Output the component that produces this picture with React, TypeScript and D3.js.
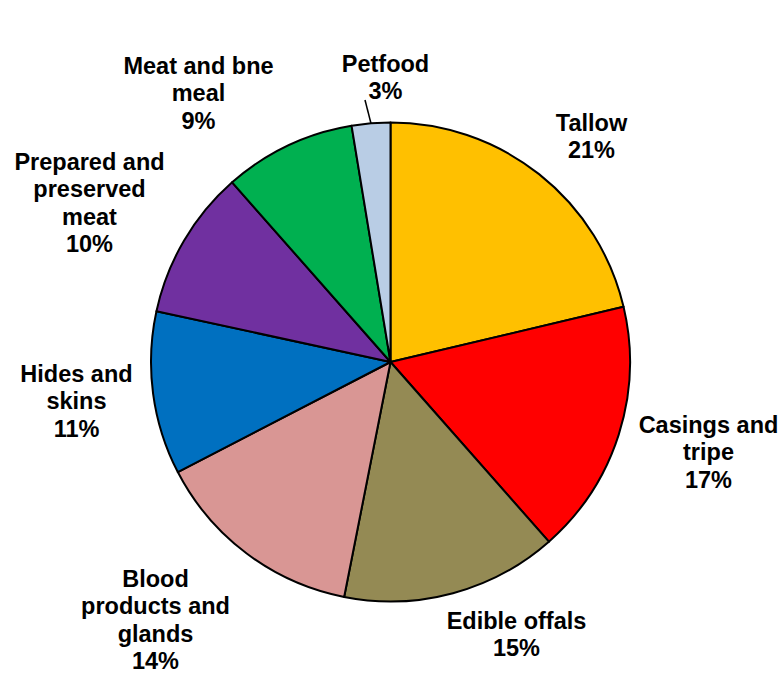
import React from 'react';
import * as d3 from 'd3';

// slice values (percent), clockwise from 12 o'clock
const categories = [
  'Tallow',
  'Casings and tripe',
  'Edible offals',
  'Blood products and glands',
  'Hides and skins',
  'Prepared and preserved meat',
  'Meat and bne meal',
  'Petfood',
];
const values = [21.3, 17.2, 14.6, 14.3, 11.0, 10.1, 8.9, 2.6];
const colors = ['#FFC000', '#FF0000', '#948A54', '#D99694', '#0070C0', '#7030A0', '#00B050', '#B9CDE5'];

// how each label wraps in the picture
const labelLines = [
  ['Tallow'],
  ['Casings and', 'tripe'],
  ['Edible offals'],
  ['Blood', 'products and', 'glands'],
  ['Hides and', 'skins'],
  ['Prepared and', 'preserved', 'meat'],
  ['Meat and bne', 'meal'],
  ['Petfood'],
];

// label anchors (centre x, first baseline) relative to pie centre
const labelPos: [number, number][] = [
  [201, -231],
  [318, 71],
  [126, 267],
  [-235, 225],
  [-314, 20],
  [-301, -192],
  [-192, -288],
  [-5, -290],
];

const W = 784;
const H = 673;
const cx = 390.5;
const cy = 362;
const radius = 239.5;
const lineH = 27.3;

export default function App() {
  const data = values.map((v, i) => ({ name: categories[i], value: v, i }));
  const pie = d3.pie<any>().value((d) => d.value).sort(null).startAngle(0).endAngle(2 * Math.PI);
  const arcs = pie(data);
  const arc = d3.arc<any>().innerRadius(0).outerRadius(radius);
  const total = d3.sum(values);

  // leader line for the small Petfood slice
  const pet = arcs[7];
  const petMid = (pet.startAngle + pet.endAngle) / 2;
  const leadEnd: [number, number] = [Math.sin(petMid) * radius, -Math.cos(petMid) * radius];

  return (
    <svg width={W} height={H} style={{ position: 'absolute', left: 0, top: 0, background: '#fff' }}>
      <g transform={`translate(${cx},${cy})`}>
        {arcs.map((a, i) => (
          <path key={categories[i]} d={arc(a) as string} fill={colors[i]} stroke="#000" strokeWidth={2} strokeLinejoin="round" />
        ))}
        <line x1={-25.5} y1={-262} x2={leadEnd[0]} y2={leadEnd[1]} stroke="#000" strokeWidth={1.5} />
        {labelLines.map((lines, i) => {
          const pct = `${Math.round((values[i] / total) * 100)}%`;
          const all = [...lines, pct];
          return (
            <text
              key={`lbl-${i}`}
              x={labelPos[i][0]}
              y={labelPos[i][1]}
              textAnchor="middle"
              fontFamily="'Liberation Sans', Arial, sans-serif"
              fontWeight="bold"
              fontSize={23.5}
              fill="#000"
            >
              {all.map((t, j) => (
                <tspan key={j} x={labelPos[i][0]} dy={j === 0 ? 0 : lineH}>
                  {t}
                </tspan>
              ))}
            </text>
          );
        })}
      </g>
    </svg>
  );
}
